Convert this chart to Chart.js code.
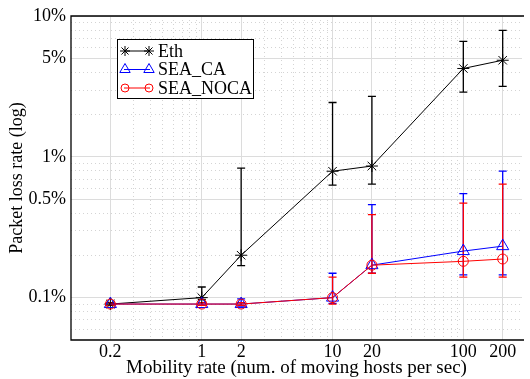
<!DOCTYPE html>
<html>
<head>
<meta charset="utf-8">
<script src="https://cdn.jsdelivr.net/npm/chart.js@4.4.0/dist/chart.umd.min.js"></script>
<style>
  html, body { margin: 0; padding: 0; background: #fff; }
</style>
</head>
<body>
<canvas id="chart" width="530" height="379"></canvas>
<script>
// mobility rate (hosts/sec) and loss rate in percent
const rates = [0.2, 1, 2, 10, 20, 100, 200];
const xTicks = [0.2, 1, 2, 10, 20, 100, 200];
const yTicks = [0.1, 0.5, 1, 5, 10];

const ethMean = [0.09, 0.1, 0.2, 0.79, 0.86, 4.24, 4.85];
const ethLow  = [0.088, 0.097, 0.169, 0.63, 0.64, 2.88, 3.16];
const ethHigh = [0.092, 0.119, 0.83, 2.43, 2.69, 6.6, 7.9];

const caMean = [0.09, 0.09, 0.09, 0.1, 0.17, 0.214, 0.232];
const caLow  = [0.088, 0.088, 0.087, 0.091, 0.149, 0.145, 0.145];
const caHigh = [0.092, 0.092, 0.098, 0.149, 0.457, 0.547, 0.79];

const nocaMean = [0.09, 0.09, 0.09, 0.1, 0.17, 0.181, 0.188];
const nocaLow  = [0.088, 0.088, 0.088, 0.09, 0.149, 0.14, 0.14];
const nocaHigh = [0.092, 0.092, 0.092, 0.14, 0.388, 0.469, 0.64];

const serif = '"Liberation Serif", "Times New Roman", serif';

const series = [
  { label: "Eth", mean: ethMean, low: ethLow, high: ethHigh, color: "#000000", style: "star", radius: 6 },
  { label: "SEA_CA", mean: caMean, low: caLow, high: caHigh, color: "#0000ff", style: "triangle", radius: 7 },
  { label: "SEA_NOCA", mean: nocaMean, low: nocaLow, high: nocaHigh, color: "#ff0000", style: "circle", radius: 5 },
];

// dotted grid at the in-between log positions
const minorGrid = {
  id: "minorGrid",
  beforeDatasetsDraw(chart) {
    const { ctx, chartArea: a, scales: { x, y } } = chart;
    ctx.save();
    ctx.strokeStyle = "#d4d4d4";
    ctx.lineWidth = 1;
    ctx.setLineDash([1, 3]);
    for (let k = -2; k <= 2; k++) {
      for (let m = 1; m <= 9; m++) {
        const v = m * Math.pow(10, k);
        const r = Math.round(v * 1000) / 1000;
        if (r > x.min && r < x.max && !xTicks.includes(r)) {
          const px = Math.round(x.getPixelForValue(r)) + 0.5;
          ctx.beginPath(); ctx.moveTo(px, a.top); ctx.lineTo(px, a.bottom); ctx.stroke();
        }
        if (r > y.min && r < y.max && !yTicks.includes(r)) {
          const py = Math.round(y.getPixelForValue(r)) + 0.5;
          ctx.beginPath(); ctx.moveTo(a.left, py); ctx.lineTo(a.right, py); ctx.stroke();
        }
      }
    }
    ctx.restore();
  }
};

// vertical error bars with caps, drawn under the markers
const errorBars = {
  id: "errorBars",
  beforeDatasetsDraw(chart) {
    const { ctx, scales: { x, y } } = chart;
    ctx.save();
    ctx.lineWidth = 1.3;
    series.forEach(s => {
      ctx.strokeStyle = s.color;
      rates.forEach((r, i) => {
        const px = x.getPixelForValue(r);
        const y1 = y.getPixelForValue(s.low[i]);
        const y2 = y.getPixelForValue(s.high[i]);
        ctx.beginPath();
        ctx.moveTo(px, y1); ctx.lineTo(px, y2);
        ctx.moveTo(px - 4, y1); ctx.lineTo(px + 4, y1);
        ctx.moveTo(px - 4, y2); ctx.lineTo(px + 4, y2);
        ctx.stroke();
      });
    });
    ctx.restore();
  }
};

// axis frame: left, top and bottom edges
const frame = {
  id: "frame",
  afterDatasetsDraw(chart) {
    const { ctx, chartArea: a } = chart;
    ctx.save();
    ctx.strokeStyle = "#000";
    ctx.lineWidth = 1.3;
    ctx.beginPath();
    ctx.moveTo(a.right + 2, a.top);
    ctx.lineTo(a.left, a.top);
    ctx.lineTo(a.left, a.bottom);
    ctx.lineTo(a.right + 2, a.bottom);
    ctx.stroke();
    ctx.restore();
  }
};

// boxed legend inside the plot
const boxLegend = {
  id: "boxLegend",
  afterDraw(chart) {
    const { ctx } = chart;
    const bx = 117.5, by = 39.5, bw = 136, bh = 59;
    ctx.save();
    ctx.fillStyle = "#fff";
    ctx.fillRect(bx, by, bw, bh);
    ctx.strokeStyle = "#000";
    ctx.lineWidth = 1;
    ctx.strokeRect(bx, by, bw, bh);
    ctx.font = "18px " + serif;
    ctx.textBaseline = "middle";
    series.forEach((s, i) => {
      const cy = 51 + i * 18.5;
      ctx.strokeStyle = s.color;
      ctx.lineWidth = 1;
      ctx.beginPath(); ctx.moveTo(124, cy); ctx.lineTo(150, cy); ctx.stroke();
      ctx.fillStyle = "rgba(0,0,0,0)";
      [125, 149].forEach(cx => {
        Chart.helpers.drawPoint(ctx, {
          pointStyle: s.style, radius: s.radius - 1, rotation: 0, borderWidth: 1
        }, cx, cy);
      });
      ctx.fillStyle = "#000";
      ctx.fillText(s.label, 158, cy + 1);
    });
    ctx.restore();
  }
};

const datasets = series.map((s, i) => ({
  label: s.label,
  data: rates.map((r, j) => ({ x: r, y: s.mean[j] })),
  borderColor: s.color,
  backgroundColor: "rgba(0,0,0,0)",
  borderWidth: 1,
  pointStyle: s.style,
  pointRadius: s.radius,
  pointBorderColor: s.color,
  pointBorderWidth: 1,
  pointBackgroundColor: "rgba(0,0,0,0)",
  order: series.length - 1 - i,
  tension: 0,
}));

new Chart(document.getElementById("chart"), {
  type: "line",
  data: { datasets },
  options: {
    responsive: false,
    animation: false,
    devicePixelRatio: 1,
    layout: { padding: { top: 16, right: 0, bottom: 0, left: 0 } },
    plugins: { legend: { display: false }, tooltip: { enabled: false } },
    scales: {
      x: {
        type: "logarithmic",
        min: 0.1,
        max: 281,
        afterBuildTicks: s => { s.ticks = xTicks.map(v => ({ value: v })); },
        afterFit: s => { s.height = 39; },
        ticks: {
          callback: v => String(v),
          font: { family: serif, size: 18 },
          color: "#000",
          maxRotation: 0,
          autoSkip: false,
          padding: 1,
        },
        grid: { color: "#dcdcdc", lineWidth: 1, drawTicks: false },
        border: { display: false },
        title: {
          display: true,
          text: "Mobility rate (num. of moving hosts per sec)",
          font: { family: serif, size: 19 },
          color: "#000",
          padding: 0,
        },
      },
      y: {
        type: "logarithmic",
        min: 0.05,
        max: 10,
        afterBuildTicks: s => { s.ticks = yTicks.map(v => ({ value: v })); },
        afterFit: s => { s.width = 71; },
        ticks: {
          callback: v => v + "%",
          font: { family: serif, size: 18 },
          color: "#000",
          autoSkip: false,
          padding: 5,
        },
        grid: { color: "#dcdcdc", lineWidth: 1, drawTicks: false },
        border: { display: false },
        title: {
          display: true,
          text: "Packet loss rate (log)",
          font: { family: serif, size: 18 },
          color: "#000",
          padding: { top: 6, bottom: 0 },
        },
      },
    },
  },
  plugins: [minorGrid, errorBars, frame, boxLegend],
});
</script>
</body>
</html>
